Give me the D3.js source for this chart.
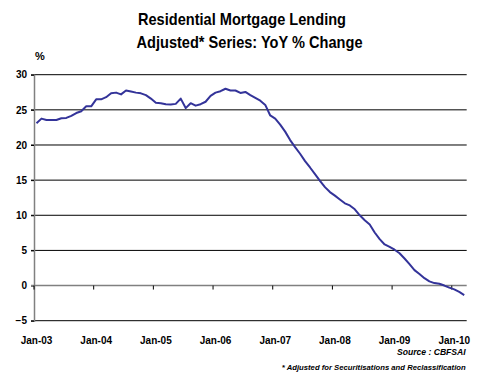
<!DOCTYPE html>
<html>
<head>
<meta charset="utf-8">
<script src="https://cdn.jsdelivr.net/npm/d3@7/dist/d3.min.js"></script>
<style>
  html, body { margin: 0; padding: 0; background: #fff; }
  svg { display: block; }
  text { font-family: 'Liberation Sans Narrow', 'Arial Narrow', 'Liberation Sans', Arial, sans-serif; font-weight: bold; fill: #000; }
</style>
</head>
<body>
<svg id="chart" width="484" height="382"></svg>
<script>
// ---- Data ----
const titleLines = ["Residential Mortgage Lending", "Adjusted* Series: YoY % Change"];
const yTicks = [-5, 0, 5, 10, 15, 20, 25, 30];
const xTickLabels = ["Jan-03", "Jan-04", "Jan-05", "Jan-06", "Jan-07", "Jan-08", "Jan-09", "Jan-10"];
// Monthly YoY % change, Jan-03 .. Mar-10
const values = [
  23.1, 23.75, 23.55, 23.55, 23.55, 23.8, 23.85, 24.15, 24.55, 24.8, 25.5, 25.5,
  26.5, 26.5, 26.8, 27.35, 27.45, 27.2, 27.75, 27.6, 27.45, 27.35, 27.1, 26.6,
  26.0, 25.95, 25.8, 25.75, 25.85, 26.6, 25.25, 25.95, 25.6, 25.8, 26.15, 27.0,
  27.45, 27.65, 28.0, 27.75, 27.75, 27.4, 27.55, 27.1, 26.7, 26.3, 25.7, 24.2,
  23.75, 22.9, 21.9, 20.7, 19.7, 18.75, 17.7, 16.8, 15.85, 14.9, 14.0, 13.3,
  12.8, 12.25, 11.7, 11.4, 10.85, 10.0, 9.3, 8.7, 7.55, 6.6, 5.85, 5.5,
  5.1, 4.6, 3.85, 3.05, 2.2, 1.65, 1.05, 0.6, 0.35, 0.25, 0.0, -0.3,
  -0.55, -0.9, -1.35
];
const monthNames = ["Jan","Feb","Mar","Apr","May","Jun","Jul","Aug","Sep","Oct","Nov","Dec"];
const categories = values.map((v, i) => monthNames[i % 12] + "-" + String(3 + Math.floor(i / 12)).padStart(2, "0"));

// ---- Layout ----
const svg = d3.select("#chart");
const mLeft = 34, mRight = 466.7, mTop = 74.7, mBottom = 320.7;

const x = d3.scaleBand().domain(categories).range([mLeft, mRight]).paddingInner(0).paddingOuter(0);
const y = d3.scaleLinear().domain([-5, 30]).range([mBottom, mTop]);

// Title
svg.append("text").attr("x", 242).attr("y", 25).attr("text-anchor", "middle")
  .style("font-size", "17px").attr("textLength", 208).attr("lengthAdjust", "spacingAndGlyphs")
  .text(titleLines[0]);
svg.append("text").attr("x", 249.5).attr("y", 48).attr("text-anchor", "middle")
  .style("font-size", "17px").attr("textLength", 226).attr("lengthAdjust", "spacingAndGlyphs")
  .text(titleLines[1]);

// % label
svg.append("text").attr("x", 35).attr("y", 60).style("font-size", "11px").text("%");

// Gridlines
svg.append("g").selectAll("line").data(yTicks.filter(d => d !== 0)).join("line")
  .attr("x1", mLeft - 3).attr("x2", mRight)
  .attr("y1", d => y(d)).attr("y2", d => y(d))
  .attr("stroke", "#000").attr("stroke-width", 1);

// Y axis
const yAxis = d3.axisLeft(y).tickValues(yTicks).tickSize(3).tickPadding(4).tickFormat(d3.format("d"));
const gy = svg.append("g").attr("transform", `translate(${mLeft},0)`).call(yAxis);
gy.select(".domain").attr("stroke", "#808080").attr("stroke-width", 1.5);
gy.selectAll(".tick line").attr("stroke", "#000");
gy.selectAll(".tick text").style("font-size", "10px").attr("fill", "#000");

// X axis along zero line (ticks at category boundaries, every 12 months)
const tickIdx = xTickLabels.map((d, k) => k * 12);
const gx = svg.append("g");
gx.append("line").attr("x1", mLeft - 3).attr("x2", mRight).attr("y1", y(0)).attr("y2", y(0))
  .attr("stroke", "#808080").attr("stroke-width", 1.5);
gx.selectAll("line.tk").data(tickIdx).join("line").attr("class", "tk")
  .attr("x1", i => x(categories[i])).attr("x2", i => x(categories[i]))
  .attr("y1", y(0)).attr("y2", y(0) + 4).attr("stroke", "#000");
gx.selectAll("text").data(tickIdx).join("text")
  .attr("x", i => x(categories[i]) + 2.5).attr("y", 344).attr("text-anchor", "middle")
  .style("font-size", "10px").text((i, k) => xTickLabels[k]);

// Line
const line = d3.line().x((d, i) => x(categories[i]) + x.bandwidth() / 2).y(d => y(d));
svg.append("path").datum(values).attr("d", line)
  .attr("fill", "none").attr("stroke", "#333399").attr("stroke-width", 2).attr("stroke-linejoin", "round");

// Footnotes
svg.append("text").attr("x", 465.7).attr("y", 355).attr("text-anchor", "end")
  .style("font-size", "8.6px").style("font-style", "italic").text("Source :  CBFSAI");
svg.append("text").attr("x", 465.7).attr("y", 370).attr("text-anchor", "end")
  .style("font-size", "7.7px").style("font-style", "italic")
  .text("*  Adjusted for Securitisations and Reclassification");
</script>
</body>
</html>
